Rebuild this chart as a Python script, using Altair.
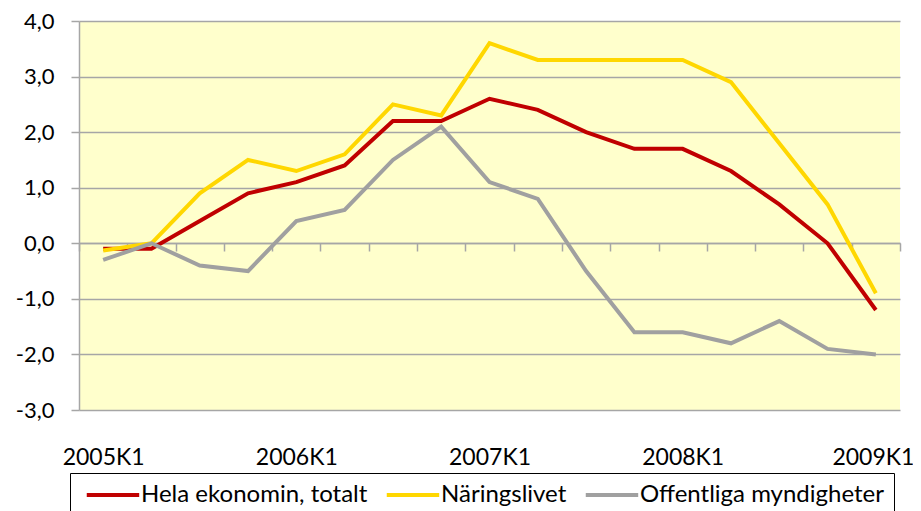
import altair as alt
import pandas as pd

quarters = ["2005K1", "2005K2", "2005K3", "2005K4",
            "2006K1", "2006K2", "2006K3", "2006K4",
            "2007K1", "2007K2", "2007K3", "2007K4",
            "2008K1", "2008K2", "2008K3", "2008K4",
            "2009K1"]
hela = [-0.1, -0.1, 0.4, 0.9, 1.1, 1.4, 2.2, 2.2, 2.6, 2.4, 2.0, 1.7, 1.7, 1.3, 0.7, 0.0, -1.2]
naring = [-0.13, 0.0, 0.9, 1.5, 1.3, 1.6, 2.5, 2.3, 3.6, 3.3, 3.3, 3.3, 3.3, 2.9, 1.8, 0.7, -0.9]
offentliga = [-0.3, 0.0, -0.4, -0.5, 0.4, 0.6, 1.5, 2.1, 1.1, 0.8, -0.5, -1.6, -1.6, -1.8, -1.4, -1.9, -2.0]
series_names = ["Hela ekonomin, totalt", "Näringslivet", "Offentliga myndigheter"]
colors = ["#C00000", "#FFD700", "#A0A0A0"]
y_ticks = [-3, -2, -1, 0, 1, 2, 3, 4]

rows = []
for name, vals in zip(series_names, [hela, naring, offentliga]):
    for q, v in zip(quarters, vals):
        rows.append({"q": q, "v": v, "s": name})
df = pd.DataFrame(rows)

gray = "#A6A6A6"
font = "Lato"

chart = alt.Chart(df).mark_line(strokeWidth=4).encode(
    x=alt.X("q:N", sort=quarters, bandPosition=0.5,
            scale=alt.Scale(type="band", paddingInner=0, paddingOuter=0),
            axis=alt.Axis(title=None, offset=-167, tickBand="extent", tickSize=8,
                          tickColor=gray, tickWidth=1.5, domainColor=gray, domainWidth=1.5,
                          labelExpr="slice(datum.label, 4) == 'K1' ? datum.label : ''",
                          labelOffset={"condition": {"test": "datum.label == '2009K1'", "value": -3},
                                       "value": 0},
                          labelAngle=0, labelPadding=195, labelFontSize=23, labelFont=font,
                          labelColor="black", labelOverlap=False, labelFlush=False, grid=False)),
    y=alt.Y("v:Q", scale=alt.Scale(domain=[-3, 4], nice=False, zero=False),
            axis=alt.Axis(title=None, values=y_ticks, labelExpr="datum.value + ',0'",
                          grid=True, gridColor=gray, gridWidth=1.5, tickSize=8,
                          tickColor=gray, tickWidth=1.5, domainColor=gray, domainWidth=1.5,
                          labelPadding=17, labelFontSize=22, labelFont=font, labelColor="black")),
    color=alt.Color("s:N", sort=series_names,
                    scale=alt.Scale(domain=series_names, range=colors),
                    legend=alt.Legend(title=None, orient="none", legendX=-9, legendY=452,
                                      direction="horizontal", symbolType="M-1,0H9",
                                      symbolSize=110, symbolStrokeWidth=4,
                                      labelFontSize=24, labelFont=font, labelColor="black",
                                      strokeColor="black", padding=10, columnPadding=10,
                                      labelOffset=37, labelLimit=0)),
).properties(
    width=821, height=389,
    padding={"left": 71, "top": 13, "right": 13, "bottom": 101},
    autosize="none",
).configure_view(fill="#FFFFCC", strokeWidth=0)

chart.save("out.html", embed_options={"renderer": "svg", "actions": False})
